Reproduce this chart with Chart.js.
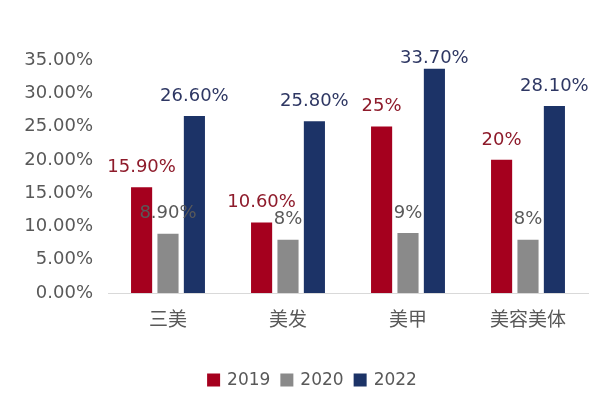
<!DOCTYPE html>
<html><head><meta charset="utf-8">
<script src="https://cdn.jsdelivr.net/npm/chart.js@4/dist/chart.umd.min.js"></script>
<style>html,body{margin:0;padding:0;background:#fff}#wrap{width:600px;height:396px}</style>
</head><body><div id="wrap"><canvas id="c" width="600" height="396"></canvas></div>
<script>
const categories = ['三美', '美发', '美甲', '美容美体'];
const seriesNames = ['2019', '2020', '2022'];
const values2019 = [15.9, 10.6, 25, 20];
const values2020 = [8.9, 8, 9, 8];
const values2022 = [26.6, 25.8, 33.7, 28.1];
const labels2019 = ['15.90%', '10.60%', '25%', '20%'];
const labels2020 = ['8.90%', '8%', '9%', '8%'];
const labels2022 = ['26.60%', '25.80%', '33.70%', '28.10%'];
const yTicks = [0, 5, 10, 15, 20, 25, 30, 35];

const barColors = ['#A5001E', '#8A8A8A', '#1C3367'];
const labelColors = ['#8E1B2B', '#595959', '#2E3763'];
const textLabels = [labels2019, labels2020, labels2022];
const FONT = '"DejaVu Sans", sans-serif';
const CJK = '"Noto Sans CJK SC", sans-serif';

const labelPlugin = {
  id: 'barLabels',
  afterDatasetsDraw(chart) {
    const ctx = chart.ctx;
    ctx.save();
    ctx.font = '18px ' + FONT;
    ctx.textAlign = 'center';
    ctx.textBaseline = 'middle';
    chart.data.datasets.forEach((ds, di) => {
      const meta = chart.getDatasetMeta(di);
      meta.data.forEach((bar, i) => {
        const y = Math.max(bar.y - 20, chart.chartArea.top - 2);
        ctx.fillStyle = labelColors[di];
        ctx.fillText(textLabels[di][i], bar.x, y);
      });
    });
    ctx.restore();
  }
};

// legend drawn below the plot, centred slightly right of the canvas middle
const legendPlugin = {
  id: 'bottomLegend',
  afterDraw(chart) {
    const ctx = chart.ctx;
    ctx.save();
    ctx.font = '17px ' + FONT;
    ctx.textBaseline = 'middle';
    const box = 13, gap = 7, itemGap = 10;
    const items = chart.data.datasets.map(ds => ({ text: ds.label, color: ds.backgroundColor, w: ctx.measureText(ds.label).width }));
    const total = items.reduce((s, it) => s + box + gap + it.w, 0) + itemGap * (items.length - 1);
    let x = 312 - total / 2;
    const cy = 380;
    items.forEach(it => {
      ctx.fillStyle = it.color;
      ctx.fillRect(x, cy - box / 2, box, box);
      x += box + gap;
      ctx.fillStyle = '#595959';
      ctx.textAlign = 'left';
      ctx.fillText(it.text, x, cy + 1);
      x += it.w + itemGap;
    });
    ctx.restore();
  }
};

new Chart(document.getElementById('c'), {
  type: 'bar',
  data: {
    labels: categories,
    datasets: [
      { label: seriesNames[0], data: values2019, backgroundColor: barColors[0] },
      { label: seriesNames[1], data: values2020, backgroundColor: barColors[1] },
      { label: seriesNames[2], data: values2022, backgroundColor: barColors[2] }
    ]
  },
  options: {
    responsive: false,
    animation: false,
    devicePixelRatio: 1,
    layout: { padding: { top: 60, right: 12, left: 0, bottom: 34 } },
    datasets: { bar: { categoryPercentage: 0.66, barPercentage: 0.8 } },
    plugins: {
      legend: { display: false },
      tooltip: { enabled: false }
    },
    scales: {
      x: {
        grid: { display: false, drawTicks: false },
        border: { display: true, color: '#D9D9D9', width: 1 },
        ticks: { color: '#595959', padding: 14, font: { family: CJK, size: 19 } },
        afterFit(s) { s.height = 69; }
      },
      y: {
        min: 0, max: 35,
        afterBuildTicks(s) { s.ticks = yTicks.map(v => ({ value: v })); },
        grid: { display: false, drawTicks: false },
        border: { display: false },
        ticks: {
          color: '#595959', padding: 15,
          font: { family: FONT, size: 18 },
          callback: v => v.toFixed(2) + '%'
        },
        afterFit(s) { s.width = 108; }
      }
    }
  },
  plugins: [labelPlugin, legendPlugin]
});
</script>
</body></html>
